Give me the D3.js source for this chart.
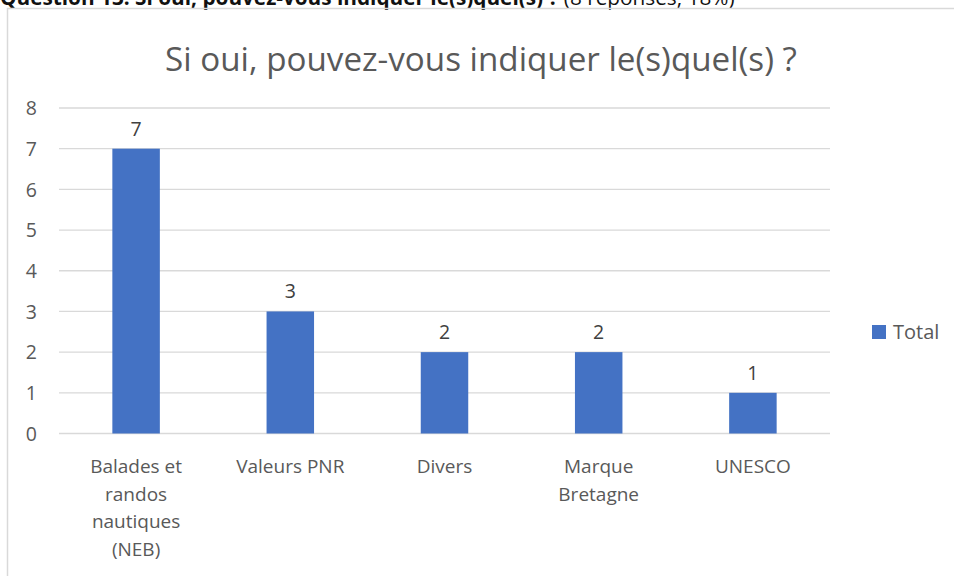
<!DOCTYPE html>
<html><head><meta charset="utf-8">
<script src="https://cdn.jsdelivr.net/npm/d3@7"></script>
<style>html,body{margin:0;padding:0;background:#fff;}svg{display:block;}</style>
</head><body>
<svg id="c" width="954" height="576"></svg>
<script>
const categories = [["Balades et","randos","nautiques","(NEB)"],["Valeurs PNR"],["Divers"],["Marque","Bretagne"],["UNESCO"]];
const values = [7, 3, 2, 2, 1];
const yTicks = [0,1,2,3,4,5,6,7,8];
const seriesName = "Total";
const chartTitle = "Si oui, pouvez-vous indiquer le(s)quel(s) ?";
const headerBold = "Question 13. Si oui, pouvez-vous indiquer le(s)quel(s) ?";
const headerRest = " (8 réponses, 18%)";

const font = "'Open Sans', 'Noto Sans', sans-serif";
const svg = d3.select("#c");
const blue = "#4472c4", grey = "#595959";

// header (cut off at top, as in the reference)
const hdr = svg.append("text").attr("x", 0).attr("y", 5).attr("font-family", font).attr("font-size", 20).attr("fill", "#111");
hdr.append("tspan").attr("font-weight", "bold").text(headerBold);
hdr.append("tspan").text(headerRest);
const hw = hdr.node().getComputedTextLength();
hdr.attr("font-size", 20 * 735 / hw);

// frame
svg.append("rect").attr("x", 7.5).attr("y", 8.5).attr("width", 1000).attr("height", 1000)
  .attr("fill", "none").attr("stroke", "#d9d9d9").attr("stroke-width", 1.5);

const x = d3.scaleBand().domain(d3.range(values.length)).range([59, 830]).paddingInner(0.692).paddingOuter(0.346);
const y = d3.scaleLinear().domain([0, 8]).range([433.5, 108]);

// gridlines
svg.append("g").selectAll("line").data(yTicks).join("line")
  .attr("x1", 59).attr("x2", 830).attr("y1", d => y(d)).attr("y2", d => y(d))
  .attr("stroke", "#d9d9d9").attr("stroke-width", 1.3);

// y axis labels
const yAxis = d3.axisLeft(y).tickValues(yTicks).tickSize(0).tickPadding(0);
const ga = svg.append("g").attr("transform", "translate(37,0)").call(yAxis);
ga.select(".domain").remove();
ga.selectAll("text").attr("font-family", font).attr("font-size", 19.5).attr("fill", grey).attr("dy", "0.35em");

// bars
svg.append("g").selectAll("rect").data(values).join("rect")
  .attr("x", (d, i) => x(i)).attr("width", x.bandwidth())
  .attr("y", d => y(d)).attr("height", d => y(0) - y(d)).attr("fill", blue);

// value labels
svg.append("g").selectAll("text").data(values).join("text")
  .attr("x", (d, i) => x(i) + x.bandwidth() / 2).attr("y", d => y(d) - 13)
  .attr("text-anchor", "middle").attr("font-family", font).attr("font-size", 19.5).attr("fill", "#404040")
  .text(d => d);

// category labels
const cg = svg.append("g").selectAll("text").data(categories).join("text")
  .attr("text-anchor", "middle").attr("font-family", font).attr("font-size", 19).attr("fill", grey)
  .attr("x", (d, i) => x(i) + x.bandwidth() / 2).attr("y", 473);
cg.selectAll("tspan").data(d => d).join("tspan")
  .attr("x", function() { return this.parentNode.getAttribute("x"); })
  .attr("dy", (d, i) => i === 0 ? 0 : 27.5).text(d => d);

// title
const t = svg.append("text").attr("x", 481).attr("y", 71).attr("text-anchor", "middle")
  .attr("font-family", font).attr("font-size", 28).attr("fill", grey).text(chartTitle);
const w = t.node().getComputedTextLength();
t.attr("font-size", 28 * 632 / w);

// legend
svg.append("rect").attr("x", 872).attr("y", 325).attr("width", 14).attr("height", 14).attr("fill", blue);
svg.append("text").attr("x", 893).attr("y", 339).attr("font-family", font).attr("font-size", 20).attr("fill", grey).text(seriesName);
</script>
</body></html>
